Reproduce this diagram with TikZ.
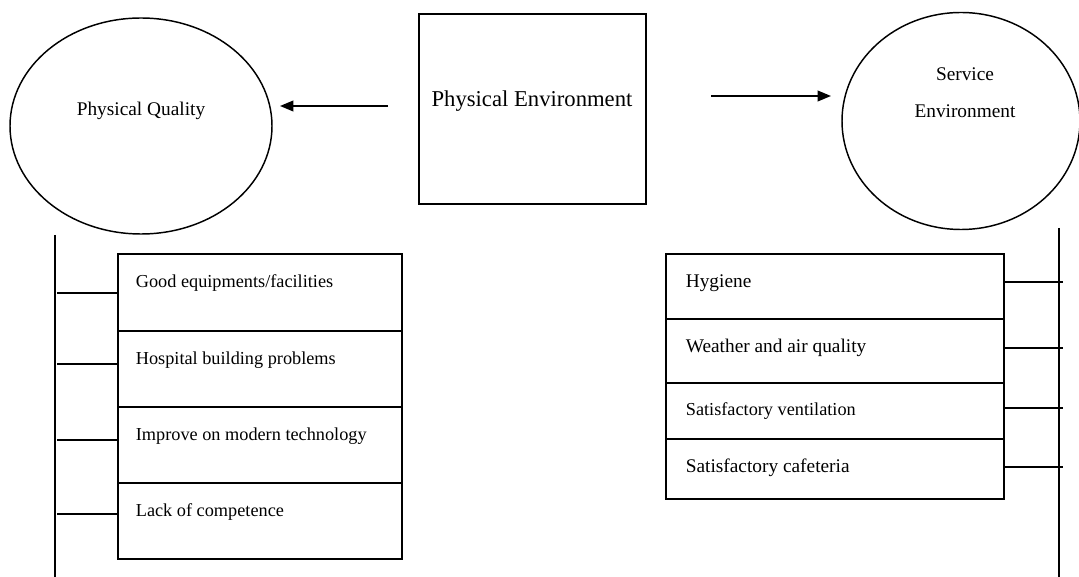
\documentclass[tikz,border=0pt]{standalone}
\usepackage{fontspec}
\setmainfont{Liberation Serif}
\usetikzlibrary{shapes.geometric,arrows.meta}
\begin{document}
\begin{tikzpicture}[x=0.75pt,y=-0.75pt,
  line width=1.3pt,
  oval/.style={draw,ellipse,inner sep=0pt,line width=1.1pt},
  cell/.style={draw,rectangle,inner sep=0pt,anchor=north west},
  lbl/.style={anchor=west,inner sep=0pt},
  fa/.style={font=\fontsize{13.7}{16}\selectfont},
  fb/.style={font=\fontsize{14.5}{17}\selectfont},
  arr/.style={-{Triangle[length=10pt,width=8pt]}}]
\useasboundingbox (0,0) rectangle (1079,577);
% top row
\node[oval,minimum width=262*0.75pt,minimum height=216*0.75pt] (pq) at (141,126) {};
\node[fb] (pqt) at (141,111) {Physical Quality};
\node[oval,minimum width=238*0.75pt,minimum height=217*0.75pt] (se) at (961,121) {};
\node[fb] (set1) at (965,74) {Service};
\node[fb] (set2) at (965,111) {Environment};
\node[cell,minimum width=227*0.75pt,minimum height=190*0.75pt] (pe) at (418,13) {};
\node[font=\fontsize{17}{20}\selectfont] (pet) at (532,101) {Physical Environment};
\coordinate (la) at (388,106);
\coordinate (lae) at (280,106);
\coordinate (ra) at (711,96);
\coordinate (rae) at (831,96);
\draw[arr] (la) -- (lae);
\draw[arr] (ra) -- (rae);
% left column
\coordinate (lt) at (55,235);
\coordinate (lb) at (55,577);
\draw (lt) -- (lb);
\foreach \i/\t/\b/\c/\txt in {1/253/330/293/Good equipments\slash facilities,
  2/330/406/364/Hospital building problems,
  3/406/482/440/Improve on modern technology,
  4/482/558/514/Lack of competence}{
  \node[cell,minimum width=284*0.75pt,minimum height={(\b-\t)*0.75pt}] (L\i) at (117,\t) {};
  \node[lbl,fa] (Lt\i) at (135,{\t+30}) {\txt};
  \coordinate (Lc\i) at (57,\c);
  \draw (Lc\i) -- (Lc\i -| L\i.west);
}
% right column
\coordinate (rt) at (1059,228);
\coordinate (rb) at (1059,577);
\draw (rt) -- (rb);
\foreach \i/\t/\b/\c/\ty/\f/\txt in {1/253/318/282/283/fb/Hygiene,
  2/318/382/348/348/fb/Weather and air quality,
  3/382/438/408/411/fa/Satisfactory ventilation,
  4/438/498/467/468/fb/Satisfactory cafeteria}{
  \node[cell,minimum width=338*0.75pt,minimum height={(\b-\t)*0.75pt}] (R\i) at (665,\t) {};
  \node[lbl,\f] (Rt\i) at (685,\ty) {\txt};
  \coordinate (Rc\i) at (1063,\c);
  \draw (R\i.east |- Rc\i) -- (Rc\i);
}
\end{tikzpicture}
\end{document}
